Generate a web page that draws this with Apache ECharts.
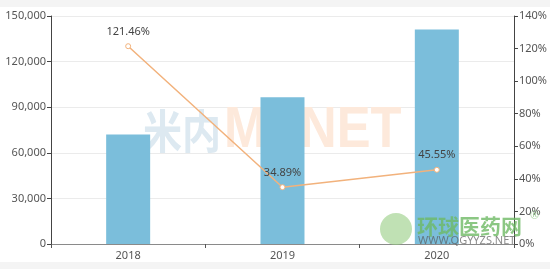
<!DOCTYPE html>
<html><head><meta charset="utf-8">
<script src="https://cdn.jsdelivr.net/npm/echarts@6/dist/echarts.min.js"></script>
<style>
html,body{margin:0;padding:0;background:#f4f4f4;}
#c{position:absolute;left:0;top:7px;width:550px;height:255px;background:#fff;}
</style></head><body>
<div id="c"></div>
<script>
var categories = ['2018', '2019', '2020'];
var salesValues = [72000, 96500, 141200];
var growthValues = [121.46, 34.89, 45.55];
var leftTicks = [0, 150000, 30000];
var rightTicks = [0, 140, 20];

var chart = echarts.init(document.getElementById('c'));
var font = 'Noto Sans';
chart.setOption({
  animation: false,
  grid: {left: 51, right: 36, top: 9, bottom: 18},
  xAxis: {
    type: 'category', data: categories,
    axisLine: {lineStyle: {color: '#8a8a8a', width: 1}},
    axisTick: {show: true, length: 4, lineStyle: {color: '#555'}},
    axisLabel: {color: '#555', fontSize: 11, fontFamily: font, margin: 6}
  },
  yAxis: [{
    type: 'value', min: leftTicks[0], max: leftTicks[1], interval: leftTicks[2],
    axisLine: {show: true, lineStyle: {color: '#444'}},
    axisTick: {show: true, length: 4, lineStyle: {color: '#444'}},
    axisLabel: {color: '#555', fontSize: 11, fontFamily: font, margin: 5,
      formatter: function(v){return v.toLocaleString('en-US');}},
    splitLine: {lineStyle: {color: '#ebebeb'}}
  }, {
    type: 'value', min: rightTicks[0], max: rightTicks[1], interval: rightTicks[2],
    axisLine: {show: true, lineStyle: {color: '#444'}},
    axisTick: {show: true, length: 4, lineStyle: {color: '#444'}},
    axisLabel: {color: '#555', fontSize: 11, fontFamily: font, margin: 5, formatter: '{value}%'},
    splitLine: {show: false}
  }],
  series: [{
    type: 'bar', data: salesValues, barWidth: 44,
    itemStyle: {color: '#7bbedb'}, z: 2
  }, {
    type: 'line', yAxisIndex: 1, data: growthValues,
    symbol: 'circle', symbolSize: 5,
    itemStyle: {color: '#fff', borderColor: '#f2b27c', borderWidth: 1},
    lineStyle: {color: '#f2b27c', width: 1.5},
    label: {show: true, position: 'top', distance: 6, color: '#444', fontSize: 11, fontFamily: font,
      formatter: function(p){return p.value.toFixed(2) + '%';}},
    z: 5
  }],
  graphic: [
    {type: 'text', x: 143, y: 124, scaleX: 0.85, z: 1, silent: true,
     style: {text: '米内', fill: '#dde9f1', font: 'bold 46px "Noto Sans CJK SC"', verticalAlign: 'middle'}},
    {type: 'text', x: 224, y: 124, scaleX: 0.89, z: 1, silent: true,
     style: {text: 'MENET', fill: '#fde9db', font: 'bold 57px "Liberation Sans"', verticalAlign: 'middle'}},
    {type: 'circle', shape: {cx: 396, cy: 222, r: 16}, z: 10, silent: true,
     style: {fill: 'rgba(150,205,130,0.6)'}},
    {type: 'text', x: 417, y: 219, z: 10, silent: true,
     style: {text: '环球医药网', fill: 'rgba(110,185,100,0.8)', font: 'bold 21px "Noto Sans CJK SC"', verticalAlign: 'middle'}},
    {type: 'text', x: 418, y: 234, z: 10, silent: true,
     style: {text: 'WWW.QGYYZS.NET', fill: 'rgba(90,90,90,0.7)', font: '11px "Noto Sans"', verticalAlign: 'middle'}},
    {type: 'text', x: 530, y: 209, z: 10, silent: true,
     style: {text: '®', fill: 'rgba(110,185,100,0.6)', font: '11px "Noto Sans"', verticalAlign: 'middle'}}
  ]
});
</script>
</body></html>
